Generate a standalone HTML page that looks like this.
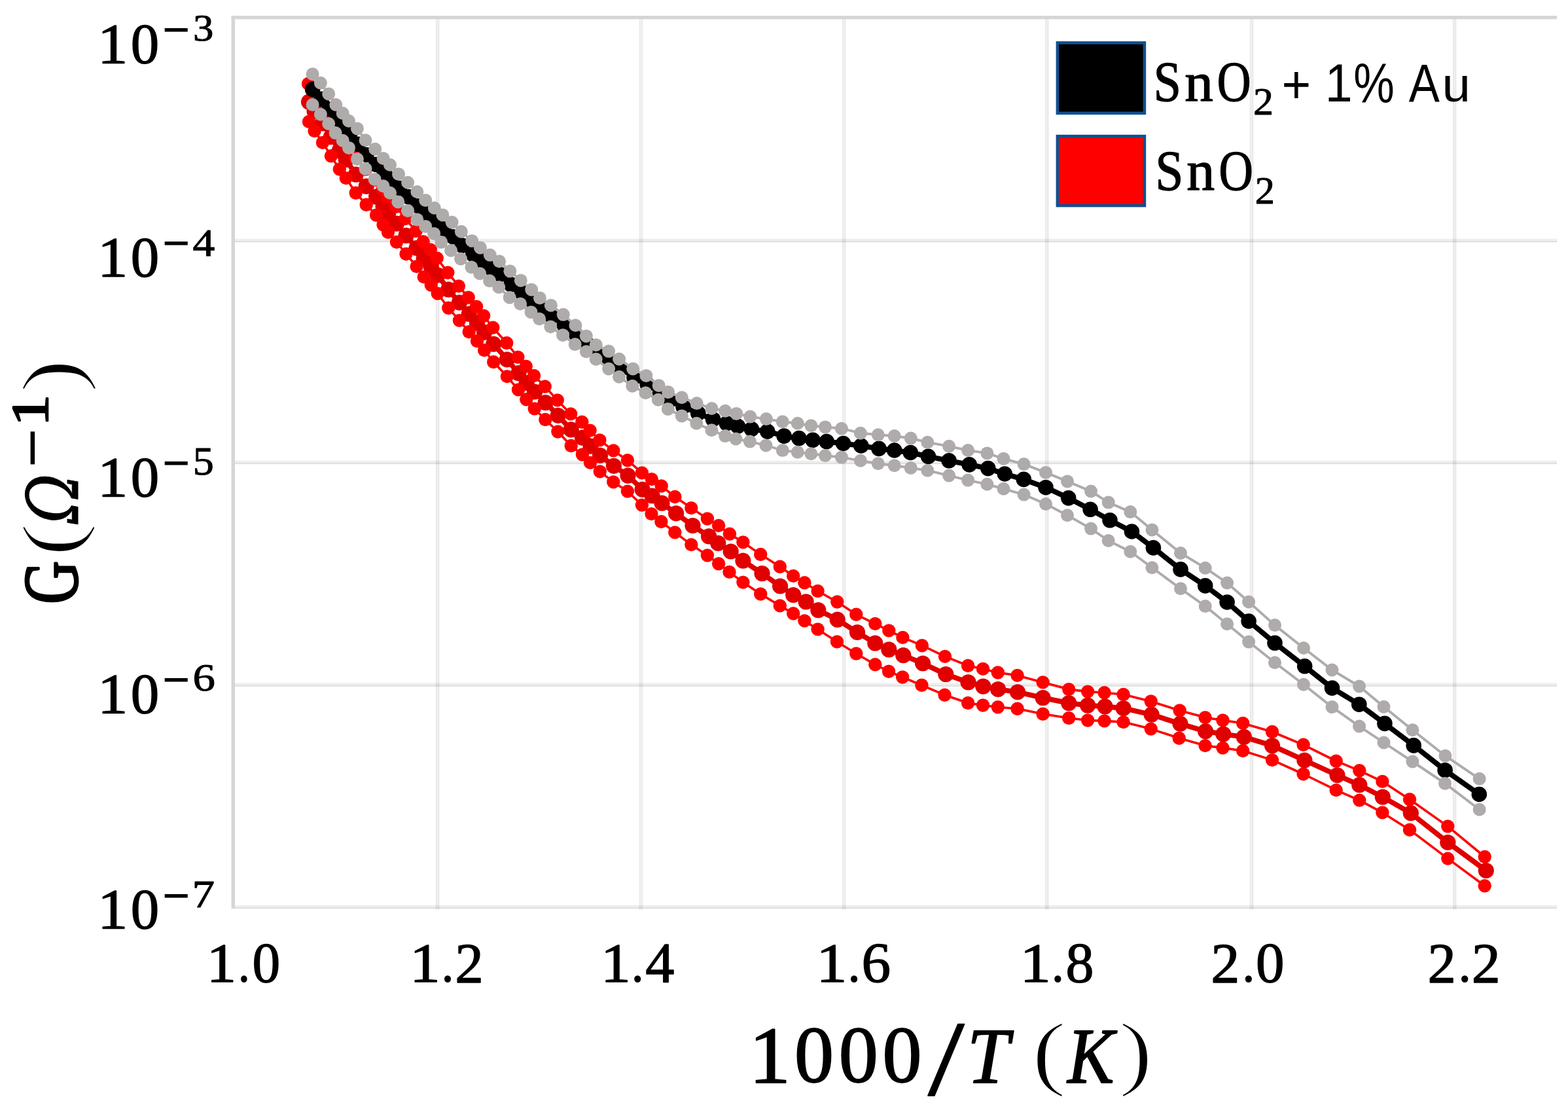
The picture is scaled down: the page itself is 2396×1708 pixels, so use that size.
<!DOCTYPE html>
<html lang="en">
<head>
<meta charset="utf-8">
<title>G vs 1000/T</title>
<style>
html,body{margin:0;padding:0;background:#fff;}
body{width:2396px;height:1708px;overflow:hidden;}
svg{display:block;}
text{fill:#000;font-family:"Liberation Serif","DejaVu Serif",serif;}
.sans{font-family:"Liberation Sans","DejaVu Sans",sans-serif;}
.it{font-style:italic;}
.dit{font-style:italic;font-family:"DejaVu Serif","Liberation Serif",serif;}
</style>
</head>
<body>
<svg width="2396" height="1708" viewBox="0 0 2396 1708">
<rect x="0" y="0" width="2396" height="1708" fill="#ffffff"/>

<g id="grid">
<rect x="665.9" y="26.7" width="2.1" height="1362.9" fill="#eaeaea"/>
<rect x="668" y="26.7" width="1.5" height="1362.9" fill="#f1f1f1"/>
<rect x="669.5" y="26.7" width="1.6" height="1362.9" fill="#e6e6e6"/>
<rect x="671.1" y="26.7" width="0.7" height="1362.9" fill="#f4f4f4"/>
<rect x="976.6" y="26.7" width="2.1" height="1362.9" fill="#eaeaea"/>
<rect x="978.7" y="26.7" width="1.5" height="1362.9" fill="#f1f1f1"/>
<rect x="980.2" y="26.7" width="1.6" height="1362.9" fill="#e6e6e6"/>
<rect x="981.8" y="26.7" width="0.7" height="1362.9" fill="#f4f4f4"/>
<rect x="1287.1" y="26.7" width="2.1" height="1362.9" fill="#eaeaea"/>
<rect x="1289.2" y="26.7" width="1.5" height="1362.9" fill="#f1f1f1"/>
<rect x="1290.7" y="26.7" width="1.6" height="1362.9" fill="#e6e6e6"/>
<rect x="1292.3" y="26.7" width="0.7" height="1362.9" fill="#f4f4f4"/>
<rect x="1597" y="26.7" width="2.1" height="1362.9" fill="#eaeaea"/>
<rect x="1599.1" y="26.7" width="1.5" height="1362.9" fill="#f1f1f1"/>
<rect x="1600.6" y="26.7" width="1.6" height="1362.9" fill="#e6e6e6"/>
<rect x="1602.2" y="26.7" width="0.7" height="1362.9" fill="#f4f4f4"/>
<rect x="1909.7" y="26.7" width="2.1" height="1362.9" fill="#eaeaea"/>
<rect x="1911.8" y="26.7" width="1.5" height="1362.9" fill="#f1f1f1"/>
<rect x="1913.3" y="26.7" width="1.6" height="1362.9" fill="#e6e6e6"/>
<rect x="1914.9" y="26.7" width="0.7" height="1362.9" fill="#f4f4f4"/>
<rect x="2219.9" y="26.7" width="2.1" height="1362.9" fill="#eaeaea"/>
<rect x="2222" y="26.7" width="1.5" height="1362.9" fill="#f1f1f1"/>
<rect x="2223.5" y="26.7" width="1.6" height="1362.9" fill="#e6e6e6"/>
<rect x="2225.1" y="26.7" width="0.7" height="1362.9" fill="#f4f4f4"/>
<rect x="359" y="364.75" width="2020.2" height="3.3" fill="#000" fill-opacity="0.067"/>
<rect x="359" y="368.05" width="2020.2" height="2.1" fill="#000" fill-opacity="0.125"/>
<rect x="359" y="703.75" width="2020.2" height="3.3" fill="#000" fill-opacity="0.067"/>
<rect x="359" y="707.05" width="2020.2" height="2.1" fill="#000" fill-opacity="0.125"/>
<rect x="359" y="1043.4" width="2020.2" height="3.3" fill="#000" fill-opacity="0.067"/>
<rect x="359" y="1046.7" width="2020.2" height="2.1" fill="#000" fill-opacity="0.125"/>
<rect x="359" y="1382.85" width="2020.2" height="3.3" fill="#000" fill-opacity="0.067"/>
<rect x="359" y="1386.15" width="2020.2" height="2.1" fill="#000" fill-opacity="0.125"/>
</g>
<g id="frame">
<rect x="353.6" y="24.1" width="2025.6" height="5.2" fill="#d5d5d5"/>
<rect x="353.6" y="24.1" width="5.4" height="1364.15" fill="#d5d5d5"/>
</g>
<g id="series">
<g class="red-mean" fill="#e00000" stroke="none">
<polyline points="472,155.7 480.6,170.1 493,188.5 505.9,209.2 518.8,230.1 528.7,243.9 543.7,266.7 559.7,284.6 575.1,300.6 585.6,315.4 593,326.6 606,341.6 620.5,359.9 636.6,379 647.7,395 658.8,407.4 668.7,420.3 685.3,442.4 701.9,462.3 716.7,479.7 729,493.7 740.1,507.7 754.2,525.7 774.8,549.3 792.4,570.2 804.7,585 817,598.5 833.6,615.1 852.7,634.8 872.7,656.4 889.9,668.7 902.5,681.6 917,695.8 937.9,711.8 959.5,726.6 981.6,747.8 996.6,757.5 1011.5,768.7 1033.1,784.3 1058.5,803 1083.1,819.4 1097.3,829.9 1116.7,842.5 1135.4,856.7 1164.5,876.1 1192.1,895.5 1212.2,909 1231.6,919.4 1250.3,932.1 1279.7,946.7 1310,966 1337.3,982.7 1358.3,992.4 1380.3,1001.2 1410.1,1013.5 1445.3,1030.1 1479.5,1042.4 1502.3,1048.6 1525.1,1053 1555,1057.3 1593.6,1066.1 1633.2,1074.1 1662.1,1077.6 1688.5,1079.4 1716.6,1082 1759.6,1091.7 1803.5,1105.7 1842.1,1117.2 1869.3,1121.5 1900.9,1125.9 1944,1139.1 1993.4,1161.5 2043.4,1184.3 2077.3,1199.2 2112.8,1217.6 2155.8,1242.2 2212.3,1287 2270.8,1330" fill="none" stroke="#e00000" stroke-width="7.8" stroke-linejoin="round" stroke-linecap="round"/>
<circle cx="472" cy="155.7" r="12.1"/><circle cx="480.6" cy="170.1" r="12.1"/><circle cx="493" cy="188.5" r="12.1"/><circle cx="505.9" cy="209.2" r="12.1"/><circle cx="518.8" cy="230.1" r="12.1"/><circle cx="528.7" cy="243.9" r="12.1"/><circle cx="543.7" cy="266.7" r="12.1"/><circle cx="559.7" cy="284.6" r="12.1"/><circle cx="575.1" cy="300.6" r="12.1"/><circle cx="585.6" cy="315.4" r="12.1"/><circle cx="593" cy="326.6" r="12.1"/><circle cx="606" cy="341.6" r="12.1"/><circle cx="620.5" cy="359.9" r="12.1"/><circle cx="636.6" cy="379" r="12.1"/><circle cx="647.7" cy="395" r="12.1"/><circle cx="658.8" cy="407.4" r="12.1"/><circle cx="668.7" cy="420.3" r="12.1"/><circle cx="685.3" cy="442.4" r="12.1"/><circle cx="701.9" cy="462.3" r="12.1"/><circle cx="716.7" cy="479.7" r="12.1"/><circle cx="729" cy="493.7" r="12.1"/><circle cx="740.1" cy="507.7" r="12.1"/><circle cx="754.2" cy="525.7" r="12.1"/><circle cx="774.8" cy="549.3" r="12.1"/><circle cx="792.4" cy="570.2" r="12.1"/><circle cx="804.7" cy="585" r="12.1"/><circle cx="817" cy="598.5" r="12.1"/><circle cx="833.6" cy="615.1" r="12.1"/><circle cx="852.7" cy="634.8" r="12.1"/><circle cx="872.7" cy="656.4" r="12.1"/><circle cx="889.9" cy="668.7" r="12.1"/><circle cx="902.5" cy="681.6" r="12.1"/><circle cx="917" cy="695.8" r="12.1"/><circle cx="937.9" cy="711.8" r="12.1"/><circle cx="959.5" cy="726.6" r="12.1"/><circle cx="981.6" cy="747.8" r="12.1"/><circle cx="996.6" cy="757.5" r="12.1"/><circle cx="1011.5" cy="768.7" r="12.1"/><circle cx="1033.1" cy="784.3" r="12.1"/><circle cx="1058.5" cy="803" r="12.1"/><circle cx="1083.1" cy="819.4" r="12.1"/><circle cx="1097.3" cy="829.9" r="12.1"/><circle cx="1116.7" cy="842.5" r="12.1"/><circle cx="1135.4" cy="856.7" r="12.1"/><circle cx="1164.5" cy="876.1" r="12.1"/><circle cx="1192.1" cy="895.5" r="12.1"/><circle cx="1212.2" cy="909" r="12.1"/><circle cx="1231.6" cy="919.4" r="12.1"/><circle cx="1250.3" cy="932.1" r="12.1"/><circle cx="1279.7" cy="946.7" r="12.1"/><circle cx="1310" cy="966" r="12.1"/><circle cx="1337.3" cy="982.7" r="12.1"/><circle cx="1358.3" cy="992.4" r="12.1"/><circle cx="1380.3" cy="1001.2" r="12.1"/><circle cx="1410.1" cy="1013.5" r="12.1"/><circle cx="1445.3" cy="1030.1" r="12.1"/><circle cx="1479.5" cy="1042.4" r="12.1"/><circle cx="1502.3" cy="1048.6" r="12.1"/><circle cx="1525.1" cy="1053" r="12.1"/><circle cx="1555" cy="1057.3" r="12.1"/><circle cx="1593.6" cy="1066.1" r="12.1"/><circle cx="1633.2" cy="1074.1" r="12.1"/><circle cx="1662.1" cy="1077.6" r="12.1"/><circle cx="1688.5" cy="1079.4" r="12.1"/><circle cx="1716.6" cy="1082" r="12.1"/><circle cx="1759.6" cy="1091.7" r="12.1"/><circle cx="1803.5" cy="1105.7" r="12.1"/><circle cx="1842.1" cy="1117.2" r="12.1"/><circle cx="1869.3" cy="1121.5" r="12.1"/><circle cx="1900.9" cy="1125.9" r="12.1"/><circle cx="1944" cy="1139.1" r="12.1"/><circle cx="1993.4" cy="1161.5" r="12.1"/><circle cx="2043.4" cy="1184.3" r="12.1"/><circle cx="2077.3" cy="1199.2" r="12.1"/><circle cx="2112.8" cy="1217.6" r="12.1"/><circle cx="2155.8" cy="1242.2" r="12.1"/><circle cx="2212.3" cy="1287" r="12.1"/><circle cx="2270.8" cy="1330" r="12.1"/>
</g>
<g class="red-upper" fill="#ff0000" stroke="none">
<polyline points="471,127.9 479.6,142.6 492,161.3 504.9,182.5 517.8,203.7 527.7,217.9 542.7,240.8 558.7,258.7 574.1,274.7 584.6,289.5 592,300.7 605,315.7 619.5,334 635.6,353.1 646.7,369.1 657.8,381.5 667.7,394.4 684.3,416.5 700.9,437.1 715.7,454.5 728,468.5 739.1,482.5 753.2,500.5 774.2,524 791.4,545.6 803.7,559.7 816,573.9 832.7,590.5 851.8,611.4 872.1,632.4 889.3,644.7 901.6,657.6 916.4,672.4 937.3,688.4 958.9,703.2 980.9,722.4 995.8,732.1 1010.7,742.5 1031.3,759 1056.3,776.1 1080.9,792.5 1098.1,803 1114.9,815.7 1135.4,828.4 1162.2,847 1191.8,865.7 1212.2,879.9 1229.4,890.3 1249.6,903 1279.3,919.5 1308.3,938.8 1337.3,952.9 1358.3,963.4 1379.4,973.9 1408.9,986.2 1444,1002.9 1479.1,1017 1502,1021.9 1524.8,1027.5 1554.6,1031.9 1593.6,1042.4 1633.2,1053.1 1662.1,1056.6 1687.6,1058.3 1716.6,1061 1758.7,1071.5 1802.6,1085.5 1841.6,1096.1 1868.5,1100.5 1899.2,1104.9 1944,1118 1991.6,1137.8 2041.7,1162.7 2077.3,1177.3 2112.4,1193.9 2154,1221.2 2212.3,1262.4 2268.7,1309" fill="none" stroke="#ff0000" stroke-width="3.6" stroke-linejoin="round" stroke-linecap="round"/>
<circle cx="471" cy="127.9" r="10.2"/><circle cx="479.6" cy="142.6" r="10.2"/><circle cx="492" cy="161.3" r="10.2"/><circle cx="504.9" cy="182.5" r="10.2"/><circle cx="517.8" cy="203.7" r="10.2"/><circle cx="527.7" cy="217.9" r="10.2"/><circle cx="542.7" cy="240.8" r="10.2"/><circle cx="558.7" cy="258.7" r="10.2"/><circle cx="574.1" cy="274.7" r="10.2"/><circle cx="584.6" cy="289.5" r="10.2"/><circle cx="592" cy="300.7" r="10.2"/><circle cx="605" cy="315.7" r="10.2"/><circle cx="619.5" cy="334" r="10.2"/><circle cx="635.6" cy="353.1" r="10.2"/><circle cx="646.7" cy="369.1" r="10.2"/><circle cx="657.8" cy="381.5" r="10.2"/><circle cx="667.7" cy="394.4" r="10.2"/><circle cx="684.3" cy="416.5" r="10.2"/><circle cx="700.9" cy="437.1" r="10.2"/><circle cx="715.7" cy="454.5" r="10.2"/><circle cx="728" cy="468.5" r="10.2"/><circle cx="739.1" cy="482.5" r="10.2"/><circle cx="753.2" cy="500.5" r="10.2"/><circle cx="774.2" cy="524" r="10.2"/><circle cx="791.4" cy="545.6" r="10.2"/><circle cx="803.7" cy="559.7" r="10.2"/><circle cx="816" cy="573.9" r="10.2"/><circle cx="832.7" cy="590.5" r="10.2"/><circle cx="851.8" cy="611.4" r="10.2"/><circle cx="872.1" cy="632.4" r="10.2"/><circle cx="889.3" cy="644.7" r="10.2"/><circle cx="901.6" cy="657.6" r="10.2"/><circle cx="916.4" cy="672.4" r="10.2"/><circle cx="937.3" cy="688.4" r="10.2"/><circle cx="958.9" cy="703.2" r="10.2"/><circle cx="980.9" cy="722.4" r="10.2"/><circle cx="995.8" cy="732.1" r="10.2"/><circle cx="1010.7" cy="742.5" r="10.2"/><circle cx="1031.3" cy="759" r="10.2"/><circle cx="1056.3" cy="776.1" r="10.2"/><circle cx="1080.9" cy="792.5" r="10.2"/><circle cx="1098.1" cy="803" r="10.2"/><circle cx="1114.9" cy="815.7" r="10.2"/><circle cx="1135.4" cy="828.4" r="10.2"/><circle cx="1162.2" cy="847" r="10.2"/><circle cx="1191.8" cy="865.7" r="10.2"/><circle cx="1212.2" cy="879.9" r="10.2"/><circle cx="1229.4" cy="890.3" r="10.2"/><circle cx="1249.6" cy="903" r="10.2"/><circle cx="1279.3" cy="919.5" r="10.2"/><circle cx="1308.3" cy="938.8" r="10.2"/><circle cx="1337.3" cy="952.9" r="10.2"/><circle cx="1358.3" cy="963.4" r="10.2"/><circle cx="1379.4" cy="973.9" r="10.2"/><circle cx="1408.9" cy="986.2" r="10.2"/><circle cx="1444" cy="1002.9" r="10.2"/><circle cx="1479.1" cy="1017" r="10.2"/><circle cx="1502" cy="1021.9" r="10.2"/><circle cx="1524.8" cy="1027.5" r="10.2"/><circle cx="1554.6" cy="1031.9" r="10.2"/><circle cx="1593.6" cy="1042.4" r="10.2"/><circle cx="1633.2" cy="1053.1" r="10.2"/><circle cx="1662.1" cy="1056.6" r="10.2"/><circle cx="1687.6" cy="1058.3" r="10.2"/><circle cx="1716.6" cy="1061" r="10.2"/><circle cx="1758.7" cy="1071.5" r="10.2"/><circle cx="1802.6" cy="1085.5" r="10.2"/><circle cx="1841.6" cy="1096.1" r="10.2"/><circle cx="1868.5" cy="1100.5" r="10.2"/><circle cx="1899.2" cy="1104.9" r="10.2"/><circle cx="1944" cy="1118" r="10.2"/><circle cx="1991.6" cy="1137.8" r="10.2"/><circle cx="2041.7" cy="1162.7" r="10.2"/><circle cx="2077.3" cy="1177.3" r="10.2"/><circle cx="2112.4" cy="1193.9" r="10.2"/><circle cx="2154" cy="1221.2" r="10.2"/><circle cx="2212.3" cy="1262.4" r="10.2"/><circle cx="2268.7" cy="1309" r="10.2"/>
</g>
<g class="red-lower" fill="#ff0000" stroke="none">
<polyline points="472,185.9 480.6,200 493,217.9 505.9,238.2 518.8,258.6 528.7,272.1 543.7,294.8 559.7,312.7 575.1,328.7 585.6,343.5 593,354.7 606,369.7 620.5,388 636.6,407.1 647.7,423.1 658.8,435.5 668.7,448.4 685.3,470.5 701.9,489.6 716.7,507 729,521 740.1,535 754.2,553 774.8,575.1 792,595.4 804.3,610.2 816.7,624.4 833.3,641 852.4,659.5 872.7,681 889.9,694.5 902,706.9 916.8,720.4 937.3,736.4 958.9,750.6 980.9,771.6 995.5,785.1 1010.4,797 1031.3,813.4 1056.3,832.1 1080.9,848.5 1098.1,861.2 1114.5,873.9 1135.4,889.6 1162.2,907.5 1191.8,925.4 1212.2,937.3 1229.4,948.4 1249.6,961.4 1279,980.4 1308.3,998.5 1337.3,1015.2 1358,1025.7 1379.1,1034.5 1408.4,1046.8 1443.5,1061.7 1479.1,1074 1502,1077.5 1524.8,1080.2 1554.6,1082.8 1593.6,1090.7 1633.2,1097 1662.1,1100.5 1687.6,1101.4 1716.6,1103.1 1758.7,1113.6 1801.7,1127.7 1841.6,1139.1 1868.5,1142.6 1899.2,1147 1944,1161.1 1991.6,1182.5 2041.7,1207.1 2077.3,1222.6 2112.4,1241.4 2154,1267.7 2212.3,1311.6 2268.7,1353.2" fill="none" stroke="#ff0000" stroke-width="3.6" stroke-linejoin="round" stroke-linecap="round"/>
<circle cx="472" cy="185.9" r="10.2"/><circle cx="480.6" cy="200" r="10.2"/><circle cx="493" cy="217.9" r="10.2"/><circle cx="505.9" cy="238.2" r="10.2"/><circle cx="518.8" cy="258.6" r="10.2"/><circle cx="528.7" cy="272.1" r="10.2"/><circle cx="543.7" cy="294.8" r="10.2"/><circle cx="559.7" cy="312.7" r="10.2"/><circle cx="575.1" cy="328.7" r="10.2"/><circle cx="585.6" cy="343.5" r="10.2"/><circle cx="593" cy="354.7" r="10.2"/><circle cx="606" cy="369.7" r="10.2"/><circle cx="620.5" cy="388" r="10.2"/><circle cx="636.6" cy="407.1" r="10.2"/><circle cx="647.7" cy="423.1" r="10.2"/><circle cx="658.8" cy="435.5" r="10.2"/><circle cx="668.7" cy="448.4" r="10.2"/><circle cx="685.3" cy="470.5" r="10.2"/><circle cx="701.9" cy="489.6" r="10.2"/><circle cx="716.7" cy="507" r="10.2"/><circle cx="729" cy="521" r="10.2"/><circle cx="740.1" cy="535" r="10.2"/><circle cx="754.2" cy="553" r="10.2"/><circle cx="774.8" cy="575.1" r="10.2"/><circle cx="792" cy="595.4" r="10.2"/><circle cx="804.3" cy="610.2" r="10.2"/><circle cx="816.7" cy="624.4" r="10.2"/><circle cx="833.3" cy="641" r="10.2"/><circle cx="852.4" cy="659.5" r="10.2"/><circle cx="872.7" cy="681" r="10.2"/><circle cx="889.9" cy="694.5" r="10.2"/><circle cx="902" cy="706.9" r="10.2"/><circle cx="916.8" cy="720.4" r="10.2"/><circle cx="937.3" cy="736.4" r="10.2"/><circle cx="958.9" cy="750.6" r="10.2"/><circle cx="980.9" cy="771.6" r="10.2"/><circle cx="995.5" cy="785.1" r="10.2"/><circle cx="1010.4" cy="797" r="10.2"/><circle cx="1031.3" cy="813.4" r="10.2"/><circle cx="1056.3" cy="832.1" r="10.2"/><circle cx="1080.9" cy="848.5" r="10.2"/><circle cx="1098.1" cy="861.2" r="10.2"/><circle cx="1114.5" cy="873.9" r="10.2"/><circle cx="1135.4" cy="889.6" r="10.2"/><circle cx="1162.2" cy="907.5" r="10.2"/><circle cx="1191.8" cy="925.4" r="10.2"/><circle cx="1212.2" cy="937.3" r="10.2"/><circle cx="1229.4" cy="948.4" r="10.2"/><circle cx="1249.6" cy="961.4" r="10.2"/><circle cx="1279" cy="980.4" r="10.2"/><circle cx="1308.3" cy="998.5" r="10.2"/><circle cx="1337.3" cy="1015.2" r="10.2"/><circle cx="1358" cy="1025.7" r="10.2"/><circle cx="1379.1" cy="1034.5" r="10.2"/><circle cx="1408.4" cy="1046.8" r="10.2"/><circle cx="1443.5" cy="1061.7" r="10.2"/><circle cx="1479.1" cy="1074" r="10.2"/><circle cx="1502" cy="1077.5" r="10.2"/><circle cx="1524.8" cy="1080.2" r="10.2"/><circle cx="1554.6" cy="1082.8" r="10.2"/><circle cx="1593.6" cy="1090.7" r="10.2"/><circle cx="1633.2" cy="1097" r="10.2"/><circle cx="1662.1" cy="1100.5" r="10.2"/><circle cx="1687.6" cy="1101.4" r="10.2"/><circle cx="1716.6" cy="1103.1" r="10.2"/><circle cx="1758.7" cy="1113.6" r="10.2"/><circle cx="1801.7" cy="1127.7" r="10.2"/><circle cx="1841.6" cy="1139.1" r="10.2"/><circle cx="1868.5" cy="1142.6" r="10.2"/><circle cx="1899.2" cy="1147" r="10.2"/><circle cx="1944" cy="1161.1" r="10.2"/><circle cx="1991.6" cy="1182.5" r="10.2"/><circle cx="2041.7" cy="1207.1" r="10.2"/><circle cx="2077.3" cy="1222.6" r="10.2"/><circle cx="2112.4" cy="1241.4" r="10.2"/><circle cx="2154" cy="1267.7" r="10.2"/><circle cx="2212.3" cy="1311.6" r="10.2"/><circle cx="2268.7" cy="1353.2" r="10.2"/>
</g>
<g class="black-mean" fill="#000000" stroke="none">
<polyline points="477.6,136.6 491.4,151.3 503.7,166.7 514.8,182.1 525.2,194.4 534.5,205.8 547.4,220.3 560,236.5 574.7,251.3 587.1,263.6 597.5,273.8 610.5,287.6 624.6,300.9 638.8,314.7 651.7,326.4 665.3,337.8 677.9,349.8 692.1,361.7 706.3,375.1 722.7,388.6 735.4,398.6 750.3,409.8 764.5,419.5 780.9,434.8 797.3,446.8 813.7,460.2 826.4,471.8 843.3,483.3 862.2,496.8 880.9,512.1 897.3,525.9 912.2,538.3 931.6,550.5 948.3,562.2 969,576.6 989.2,587.1 1008.5,599.9 1023.2,612 1044,621.4 1066.8,631.4 1089.6,640.7 1110.3,646.8 1127.4,651.2 1148.4,655.6 1172.7,659.1 1198.1,666.1 1220.9,669.6 1242,672.3 1263.1,674.6 1288.6,677.5 1315.8,681 1343,685.4 1366.7,688 1391.3,691.5 1418.5,697.3 1450.1,703.8 1481.2,709.9 1509.8,715.6 1535.3,724 1564.3,732.4 1598,744.7 1632.7,760.9 1666.1,778.3 1696,794.8 1729.4,812 1762.4,836.9 1804,869.9 1841.7,894.9 1875.1,920 1908.1,949 1948,982.3 1993.7,1017.8 2035.5,1051.1 2076.8,1076.2 2115.9,1105.4 2160.2,1138.9 2208.1,1176.7 2260.3,1213.5" fill="none" stroke="#000000" stroke-width="8.0" stroke-linejoin="round" stroke-linecap="round"/>
<circle cx="477.6" cy="136.6" r="11.8"/><circle cx="491.4" cy="151.3" r="11.8"/><circle cx="503.7" cy="166.7" r="11.8"/><circle cx="514.8" cy="182.1" r="11.8"/><circle cx="525.2" cy="194.4" r="11.8"/><circle cx="534.5" cy="205.8" r="11.8"/><circle cx="547.4" cy="220.3" r="11.8"/><circle cx="560" cy="236.5" r="11.8"/><circle cx="574.7" cy="251.3" r="11.8"/><circle cx="587.1" cy="263.6" r="11.8"/><circle cx="597.5" cy="273.8" r="11.8"/><circle cx="610.5" cy="287.6" r="11.8"/><circle cx="624.6" cy="300.9" r="11.8"/><circle cx="638.8" cy="314.7" r="11.8"/><circle cx="651.7" cy="326.4" r="11.8"/><circle cx="665.3" cy="337.8" r="11.8"/><circle cx="677.9" cy="349.8" r="11.8"/><circle cx="692.1" cy="361.7" r="11.8"/><circle cx="706.3" cy="375.1" r="11.8"/><circle cx="722.7" cy="388.6" r="11.8"/><circle cx="735.4" cy="398.6" r="11.8"/><circle cx="750.3" cy="409.8" r="11.8"/><circle cx="764.5" cy="419.5" r="11.8"/><circle cx="780.9" cy="434.8" r="11.8"/><circle cx="797.3" cy="446.8" r="11.8"/><circle cx="813.7" cy="460.2" r="11.8"/><circle cx="826.4" cy="471.8" r="11.8"/><circle cx="843.3" cy="483.3" r="11.8"/><circle cx="862.2" cy="496.8" r="11.8"/><circle cx="880.9" cy="512.1" r="11.8"/><circle cx="897.3" cy="525.9" r="11.8"/><circle cx="912.2" cy="538.3" r="11.8"/><circle cx="931.6" cy="550.5" r="11.8"/><circle cx="948.3" cy="562.2" r="11.8"/><circle cx="969" cy="576.6" r="11.8"/><circle cx="989.2" cy="587.1" r="11.8"/><circle cx="1008.5" cy="599.9" r="11.8"/><circle cx="1023.2" cy="612" r="11.8"/><circle cx="1044" cy="621.4" r="11.8"/><circle cx="1066.8" cy="631.4" r="11.8"/><circle cx="1089.6" cy="640.7" r="11.8"/><circle cx="1110.3" cy="646.8" r="11.8"/><circle cx="1127.4" cy="651.2" r="11.8"/><circle cx="1148.4" cy="655.6" r="11.8"/><circle cx="1172.7" cy="659.1" r="11.8"/><circle cx="1198.1" cy="666.1" r="11.8"/><circle cx="1220.9" cy="669.6" r="11.8"/><circle cx="1242" cy="672.3" r="11.8"/><circle cx="1263.1" cy="674.6" r="11.8"/><circle cx="1288.6" cy="677.5" r="11.8"/><circle cx="1315.8" cy="681" r="11.8"/><circle cx="1343" cy="685.4" r="11.8"/><circle cx="1366.7" cy="688" r="11.8"/><circle cx="1391.3" cy="691.5" r="11.8"/><circle cx="1418.5" cy="697.3" r="11.8"/><circle cx="1450.1" cy="703.8" r="11.8"/><circle cx="1481.2" cy="709.9" r="11.8"/><circle cx="1509.8" cy="715.6" r="11.8"/><circle cx="1535.3" cy="724" r="11.8"/><circle cx="1564.3" cy="732.4" r="11.8"/><circle cx="1598" cy="744.7" r="11.8"/><circle cx="1632.7" cy="760.9" r="11.8"/><circle cx="1666.1" cy="778.3" r="11.8"/><circle cx="1696" cy="794.8" r="11.8"/><circle cx="1729.4" cy="812" r="11.8"/><circle cx="1762.4" cy="836.9" r="11.8"/><circle cx="1804" cy="869.9" r="11.8"/><circle cx="1841.7" cy="894.9" r="11.8"/><circle cx="1875.1" cy="920" r="11.8"/><circle cx="1908.1" cy="949" r="11.8"/><circle cx="1948" cy="982.3" r="11.8"/><circle cx="1993.7" cy="1017.8" r="11.8"/><circle cx="2035.5" cy="1051.1" r="11.8"/><circle cx="2076.8" cy="1076.2" r="11.8"/><circle cx="2115.9" cy="1105.4" r="11.8"/><circle cx="2160.2" cy="1138.9" r="11.8"/><circle cx="2208.1" cy="1176.7" r="11.8"/><circle cx="2260.3" cy="1213.5" r="11.8"/>
</g>
<g class="gray-upper" fill="#afabab" stroke="none">
<polyline points="477.6,113.2 489.9,126.8 502.2,143.4 513.3,160 523.7,173 533,184.7 545.9,196.4 558.5,214.2 573.2,227.7 585.6,241.9 596,251.7 609,265.9 623.1,278.8 637.3,293 650.2,305.9 663.8,317.7 676.4,328.4 690.6,339.6 704.8,353.7 721.2,367.9 733.9,378.4 748.8,389.6 763,399.3 779.4,414.2 795.8,428.4 812.2,442.5 824.9,455.2 841.8,466.4 860.7,480.6 879.4,497 895.8,513.4 910.7,526.9 930.1,536.6 946.1,548.5 967.2,563.4 987.4,573.9 1006.7,588.9 1021.1,599.1 1041.8,607.3 1064.7,616.1 1087.5,624 1108.2,627.8 1125.3,631.9 1146.3,636.6 1170.9,640.1 1195.8,644.2 1218.8,646.8 1239.4,650.3 1261,652.4 1285.9,654.7 1314.9,661.7 1341.8,664.3 1366.7,666 1391.7,669.6 1417.3,675.7 1450.1,681.8 1479.1,688 1508.4,692.4 1533.5,700.8 1564.6,709.1 1598,721.9 1631,735.4 1667,750.5 1693.7,767.6 1727.3,782.1 1760.4,809.4 1804,845 1841.7,867.7 1875.1,890.5 1908.1,919.5 1948,955.1 1992,990 2035.5,1023.5 2077.1,1048.5 2114.5,1079.7 2158.4,1115.2 2208.5,1154.7 2260.6,1189.8" fill="none" stroke="#afabab" stroke-width="3.9" stroke-linejoin="round" stroke-linecap="round"/>
<circle cx="477.6" cy="113.2" r="10.0"/><circle cx="489.9" cy="126.8" r="10.0"/><circle cx="502.2" cy="143.4" r="10.0"/><circle cx="513.3" cy="160" r="10.0"/><circle cx="523.7" cy="173" r="10.0"/><circle cx="533" cy="184.7" r="10.0"/><circle cx="545.9" cy="196.4" r="10.0"/><circle cx="558.5" cy="214.2" r="10.0"/><circle cx="573.2" cy="227.7" r="10.0"/><circle cx="585.6" cy="241.9" r="10.0"/><circle cx="596" cy="251.7" r="10.0"/><circle cx="609" cy="265.9" r="10.0"/><circle cx="623.1" cy="278.8" r="10.0"/><circle cx="637.3" cy="293" r="10.0"/><circle cx="650.2" cy="305.9" r="10.0"/><circle cx="663.8" cy="317.7" r="10.0"/><circle cx="676.4" cy="328.4" r="10.0"/><circle cx="690.6" cy="339.6" r="10.0"/><circle cx="704.8" cy="353.7" r="10.0"/><circle cx="721.2" cy="367.9" r="10.0"/><circle cx="733.9" cy="378.4" r="10.0"/><circle cx="748.8" cy="389.6" r="10.0"/><circle cx="763" cy="399.3" r="10.0"/><circle cx="779.4" cy="414.2" r="10.0"/><circle cx="795.8" cy="428.4" r="10.0"/><circle cx="812.2" cy="442.5" r="10.0"/><circle cx="824.9" cy="455.2" r="10.0"/><circle cx="841.8" cy="466.4" r="10.0"/><circle cx="860.7" cy="480.6" r="10.0"/><circle cx="879.4" cy="497" r="10.0"/><circle cx="895.8" cy="513.4" r="10.0"/><circle cx="910.7" cy="526.9" r="10.0"/><circle cx="930.1" cy="536.6" r="10.0"/><circle cx="946.1" cy="548.5" r="10.0"/><circle cx="967.2" cy="563.4" r="10.0"/><circle cx="987.4" cy="573.9" r="10.0"/><circle cx="1006.7" cy="588.9" r="10.0"/><circle cx="1021.1" cy="599.1" r="10.0"/><circle cx="1041.8" cy="607.3" r="10.0"/><circle cx="1064.7" cy="616.1" r="10.0"/><circle cx="1087.5" cy="624" r="10.0"/><circle cx="1108.2" cy="627.8" r="10.0"/><circle cx="1125.3" cy="631.9" r="10.0"/><circle cx="1146.3" cy="636.6" r="10.0"/><circle cx="1170.9" cy="640.1" r="10.0"/><circle cx="1195.8" cy="644.2" r="10.0"/><circle cx="1218.8" cy="646.8" r="10.0"/><circle cx="1239.4" cy="650.3" r="10.0"/><circle cx="1261" cy="652.4" r="10.0"/><circle cx="1285.9" cy="654.7" r="10.0"/><circle cx="1314.9" cy="661.7" r="10.0"/><circle cx="1341.8" cy="664.3" r="10.0"/><circle cx="1366.7" cy="666" r="10.0"/><circle cx="1391.7" cy="669.6" r="10.0"/><circle cx="1417.3" cy="675.7" r="10.0"/><circle cx="1450.1" cy="681.8" r="10.0"/><circle cx="1479.1" cy="688" r="10.0"/><circle cx="1508.4" cy="692.4" r="10.0"/><circle cx="1533.5" cy="700.8" r="10.0"/><circle cx="1564.6" cy="709.1" r="10.0"/><circle cx="1598" cy="721.9" r="10.0"/><circle cx="1631" cy="735.4" r="10.0"/><circle cx="1667" cy="750.5" r="10.0"/><circle cx="1693.7" cy="767.6" r="10.0"/><circle cx="1727.3" cy="782.1" r="10.0"/><circle cx="1760.4" cy="809.4" r="10.0"/><circle cx="1804" cy="845" r="10.0"/><circle cx="1841.7" cy="867.7" r="10.0"/><circle cx="1875.1" cy="890.5" r="10.0"/><circle cx="1908.1" cy="919.5" r="10.0"/><circle cx="1948" cy="955.1" r="10.0"/><circle cx="1992" cy="990" r="10.0"/><circle cx="2035.5" cy="1023.5" r="10.0"/><circle cx="2077.1" cy="1048.5" r="10.0"/><circle cx="2114.5" cy="1079.7" r="10.0"/><circle cx="2158.4" cy="1115.2" r="10.0"/><circle cx="2208.5" cy="1154.7" r="10.0"/><circle cx="2260.6" cy="1189.8" r="10.0"/>
</g>
<g class="gray-lower" fill="#afabab" stroke="none">
<polyline points="477.6,160 489.9,174.8 502.2,189 512.6,203.1 523.7,214.8 533,225.9 545.9,243.1 558.5,257.9 572.6,273.9 585.6,284.3 596,294.8 608.3,308.4 623.1,321.9 637.3,335.4 650.2,345.9 663.1,356.9 674.2,370.1 689.1,382.8 704,395.5 720.4,408.2 733.1,417.9 748.1,429.1 762.2,438.8 778.7,454.5 795.1,464.2 811.5,476.9 824.2,487.3 841.3,499.3 860,511.9 878.7,526.1 895.8,537.3 910.7,548.7 930.1,563.5 946.1,575.7 966.3,589.7 986.5,600.3 1005.8,610.8 1020.8,624.9 1041.8,635.4 1064.3,646.8 1087.5,657.3 1108.2,666.1 1124.4,670.5 1145.8,674.6 1170.4,680.5 1195.8,688.1 1218.8,690.7 1239.4,693.3 1261,696 1285.9,698.6 1314.9,703.8 1341.8,708.2 1366.7,711.3 1391.7,714.9 1417.3,718.7 1450.1,726.6 1479.1,733.6 1508.4,739.8 1533.5,746.8 1564.6,755.6 1598,770 1631,787.2 1667,807.6 1693.7,826 1727.3,842.7 1760.4,867.3 1804,899.3 1841.7,926.1 1875.1,953.3 1908.1,980.6 1948,1012.2 1992,1045.8 2035.5,1080.1 2077.1,1109.6 2114.5,1134.5 2158.4,1163.5 2208.1,1196.9 2260.6,1236.7" fill="none" stroke="#afabab" stroke-width="3.9" stroke-linejoin="round" stroke-linecap="round"/>
<circle cx="477.6" cy="160" r="10.0"/><circle cx="489.9" cy="174.8" r="10.0"/><circle cx="502.2" cy="189" r="10.0"/><circle cx="512.6" cy="203.1" r="10.0"/><circle cx="523.7" cy="214.8" r="10.0"/><circle cx="533" cy="225.9" r="10.0"/><circle cx="545.9" cy="243.1" r="10.0"/><circle cx="558.5" cy="257.9" r="10.0"/><circle cx="572.6" cy="273.9" r="10.0"/><circle cx="585.6" cy="284.3" r="10.0"/><circle cx="596" cy="294.8" r="10.0"/><circle cx="608.3" cy="308.4" r="10.0"/><circle cx="623.1" cy="321.9" r="10.0"/><circle cx="637.3" cy="335.4" r="10.0"/><circle cx="650.2" cy="345.9" r="10.0"/><circle cx="663.1" cy="356.9" r="10.0"/><circle cx="674.2" cy="370.1" r="10.0"/><circle cx="689.1" cy="382.8" r="10.0"/><circle cx="704" cy="395.5" r="10.0"/><circle cx="720.4" cy="408.2" r="10.0"/><circle cx="733.1" cy="417.9" r="10.0"/><circle cx="748.1" cy="429.1" r="10.0"/><circle cx="762.2" cy="438.8" r="10.0"/><circle cx="778.7" cy="454.5" r="10.0"/><circle cx="795.1" cy="464.2" r="10.0"/><circle cx="811.5" cy="476.9" r="10.0"/><circle cx="824.2" cy="487.3" r="10.0"/><circle cx="841.3" cy="499.3" r="10.0"/><circle cx="860" cy="511.9" r="10.0"/><circle cx="878.7" cy="526.1" r="10.0"/><circle cx="895.8" cy="537.3" r="10.0"/><circle cx="910.7" cy="548.7" r="10.0"/><circle cx="930.1" cy="563.5" r="10.0"/><circle cx="946.1" cy="575.7" r="10.0"/><circle cx="966.3" cy="589.7" r="10.0"/><circle cx="986.5" cy="600.3" r="10.0"/><circle cx="1005.8" cy="610.8" r="10.0"/><circle cx="1020.8" cy="624.9" r="10.0"/><circle cx="1041.8" cy="635.4" r="10.0"/><circle cx="1064.3" cy="646.8" r="10.0"/><circle cx="1087.5" cy="657.3" r="10.0"/><circle cx="1108.2" cy="666.1" r="10.0"/><circle cx="1124.4" cy="670.5" r="10.0"/><circle cx="1145.8" cy="674.6" r="10.0"/><circle cx="1170.4" cy="680.5" r="10.0"/><circle cx="1195.8" cy="688.1" r="10.0"/><circle cx="1218.8" cy="690.7" r="10.0"/><circle cx="1239.4" cy="693.3" r="10.0"/><circle cx="1261" cy="696" r="10.0"/><circle cx="1285.9" cy="698.6" r="10.0"/><circle cx="1314.9" cy="703.8" r="10.0"/><circle cx="1341.8" cy="708.2" r="10.0"/><circle cx="1366.7" cy="711.3" r="10.0"/><circle cx="1391.7" cy="714.9" r="10.0"/><circle cx="1417.3" cy="718.7" r="10.0"/><circle cx="1450.1" cy="726.6" r="10.0"/><circle cx="1479.1" cy="733.6" r="10.0"/><circle cx="1508.4" cy="739.8" r="10.0"/><circle cx="1533.5" cy="746.8" r="10.0"/><circle cx="1564.6" cy="755.6" r="10.0"/><circle cx="1598" cy="770" r="10.0"/><circle cx="1631" cy="787.2" r="10.0"/><circle cx="1667" cy="807.6" r="10.0"/><circle cx="1693.7" cy="826" r="10.0"/><circle cx="1727.3" cy="842.7" r="10.0"/><circle cx="1760.4" cy="867.3" r="10.0"/><circle cx="1804" cy="899.3" r="10.0"/><circle cx="1841.7" cy="926.1" r="10.0"/><circle cx="1875.1" cy="953.3" r="10.0"/><circle cx="1908.1" cy="980.6" r="10.0"/><circle cx="1948" cy="1012.2" r="10.0"/><circle cx="1992" cy="1045.8" r="10.0"/><circle cx="2035.5" cy="1080.1" r="10.0"/><circle cx="2077.1" cy="1109.6" r="10.0"/><circle cx="2114.5" cy="1134.5" r="10.0"/><circle cx="2158.4" cy="1163.5" r="10.0"/><circle cx="2208.1" cy="1196.9" r="10.0"/><circle cx="2260.6" cy="1236.7" r="10.0"/>
</g>
</g>
<g id="yticks">
<text><tspan x="148.98" y="95.5" font-size="86.97" textLength="46.38" lengthAdjust="spacingAndGlyphs" stroke="#000" stroke-width="1.4" stroke-linejoin="round">1</tspan><tspan x="199.64" y="95.62" font-size="87.7" textLength="43.41" lengthAdjust="spacingAndGlyphs" stroke="#000" stroke-width="1.4" stroke-linejoin="round">0</tspan><tspan x="247.63" y="83.24" font-size="112" textLength="42.57" lengthAdjust="spacingAndGlyphs">−</tspan><tspan x="295.12" y="61.62" font-size="57.84" textLength="31.39" lengthAdjust="spacingAndGlyphs" stroke="#000" stroke-width="1" stroke-linejoin="round">3</tspan></text>
<text><tspan x="148.98" y="421.7" font-size="86.97" textLength="46.38" lengthAdjust="spacingAndGlyphs" stroke="#000" stroke-width="1.4" stroke-linejoin="round">1</tspan><tspan x="199.64" y="421.82" font-size="87.7" textLength="43.41" lengthAdjust="spacingAndGlyphs" stroke="#000" stroke-width="1.4" stroke-linejoin="round">0</tspan><tspan x="247.63" y="409.44" font-size="112" textLength="42.57" lengthAdjust="spacingAndGlyphs">−</tspan><tspan x="294.45" y="390.5" font-size="59.47" textLength="33.76" lengthAdjust="spacingAndGlyphs" stroke="#000" stroke-width="1" stroke-linejoin="round">4</tspan></text>
<text><tspan x="148.98" y="757.5" font-size="86.97" textLength="46.38" lengthAdjust="spacingAndGlyphs" stroke="#000" stroke-width="1.4" stroke-linejoin="round">1</tspan><tspan x="199.64" y="757.62" font-size="87.7" textLength="43.41" lengthAdjust="spacingAndGlyphs" stroke="#000" stroke-width="1.4" stroke-linejoin="round">0</tspan><tspan x="247.63" y="745.24" font-size="112" textLength="42.57" lengthAdjust="spacingAndGlyphs">−</tspan><tspan x="294.81" y="725.09" font-size="61.05" textLength="32.05" lengthAdjust="spacingAndGlyphs" stroke="#000" stroke-width="1" stroke-linejoin="round">5</tspan></text>
<text><tspan x="148.98" y="1088.7" font-size="86.97" textLength="46.38" lengthAdjust="spacingAndGlyphs" stroke="#000" stroke-width="1.4" stroke-linejoin="round">1</tspan><tspan x="199.64" y="1088.82" font-size="87.7" textLength="43.41" lengthAdjust="spacingAndGlyphs" stroke="#000" stroke-width="1.4" stroke-linejoin="round">0</tspan><tspan x="247.63" y="1076.44" font-size="112" textLength="42.57" lengthAdjust="spacingAndGlyphs">−</tspan><tspan x="294.58" y="1054.61" font-size="58.59" textLength="34.39" lengthAdjust="spacingAndGlyphs" stroke="#000" stroke-width="1" stroke-linejoin="round">6</tspan></text>
<text><tspan x="148.98" y="1418" font-size="86.97" textLength="46.38" lengthAdjust="spacingAndGlyphs" stroke="#000" stroke-width="1.4" stroke-linejoin="round">1</tspan><tspan x="199.64" y="1418.12" font-size="87.7" textLength="43.41" lengthAdjust="spacingAndGlyphs" stroke="#000" stroke-width="1.4" stroke-linejoin="round">0</tspan><tspan x="247.63" y="1405.74" font-size="112" textLength="42.57" lengthAdjust="spacingAndGlyphs">−</tspan><tspan x="293.51" y="1385.7" font-size="59.24" textLength="34.57" lengthAdjust="spacingAndGlyphs" stroke="#000" stroke-width="1" stroke-linejoin="round">7</tspan></text>
</g>
<g id="xticks">
<text><tspan x="315.76" y="1499.6" font-size="85.45" textLength="45.39" lengthAdjust="spacingAndGlyphs" stroke="#000" stroke-width="1.4" stroke-linejoin="round">1</tspan><tspan x="362.85" y="1499.83" font-size="91.06" textLength="20.21" lengthAdjust="spacingAndGlyphs">.</tspan><tspan x="385.5" y="1499.64" font-size="85.78" textLength="42.71" lengthAdjust="spacingAndGlyphs" stroke="#000" stroke-width="1.4" stroke-linejoin="round">0</tspan></text>
<text><tspan x="625.91" y="1499.6" font-size="85.45" textLength="46.81" lengthAdjust="spacingAndGlyphs" stroke="#000" stroke-width="1.4" stroke-linejoin="round">1</tspan><tspan x="673.32" y="1499.83" font-size="91.06" textLength="21.46" lengthAdjust="spacingAndGlyphs">.</tspan><tspan x="695.37" y="1500.5" font-size="87.4" textLength="43.62" lengthAdjust="spacingAndGlyphs" stroke="#000" stroke-width="1.4" stroke-linejoin="round">2</tspan></text>
<text><tspan x="918.08" y="1499.6" font-size="85.45" textLength="45.82" lengthAdjust="spacingAndGlyphs" stroke="#000" stroke-width="1.4" stroke-linejoin="round">1</tspan><tspan x="963.42" y="1499.83" font-size="91.06" textLength="21.46" lengthAdjust="spacingAndGlyphs">.</tspan><tspan x="986.33" y="1499.6" font-size="85.78" textLength="44.19" lengthAdjust="spacingAndGlyphs" stroke="#000" stroke-width="1.4" stroke-linejoin="round">4</tspan></text>
<text><tspan x="1247.33" y="1499.6" font-size="85.45" textLength="47.23" lengthAdjust="spacingAndGlyphs" stroke="#000" stroke-width="1.4" stroke-linejoin="round">1</tspan><tspan x="1294.17" y="1499.83" font-size="91.06" textLength="21.67" lengthAdjust="spacingAndGlyphs">.</tspan><tspan x="1316.61" y="1499.64" font-size="86.1" textLength="44.56" lengthAdjust="spacingAndGlyphs" stroke="#000" stroke-width="1.4" stroke-linejoin="round">6</tspan></text>
<text><tspan x="1558.61" y="1499.6" font-size="85.45" textLength="47.38" lengthAdjust="spacingAndGlyphs" stroke="#000" stroke-width="1.4" stroke-linejoin="round">1</tspan><tspan x="1605.47" y="1499.83" font-size="91.06" textLength="21.67" lengthAdjust="spacingAndGlyphs">.</tspan><tspan x="1628.48" y="1499.64" font-size="85.78" textLength="42.94" lengthAdjust="spacingAndGlyphs" stroke="#000" stroke-width="1.4" stroke-linejoin="round">8</tspan></text>
<text><tspan x="1850.33" y="1500.5" font-size="87.4" textLength="44.12" lengthAdjust="spacingAndGlyphs" stroke="#000" stroke-width="1.4" stroke-linejoin="round">2</tspan><tspan x="1896.97" y="1499.83" font-size="91.06" textLength="21.67" lengthAdjust="spacingAndGlyphs">.</tspan><tspan x="1919.14" y="1499.64" font-size="85.78" textLength="43.53" lengthAdjust="spacingAndGlyphs" stroke="#000" stroke-width="1.4" stroke-linejoin="round">0</tspan></text>
<text><tspan x="2181.4" y="1500.5" font-size="87.4" textLength="43.38" lengthAdjust="spacingAndGlyphs" stroke="#000" stroke-width="1.4" stroke-linejoin="round">2</tspan><tspan x="2227.31" y="1499.83" font-size="91.06" textLength="21.88" lengthAdjust="spacingAndGlyphs">.</tspan><tspan x="2248.84" y="1500.5" font-size="87.4" textLength="44" lengthAdjust="spacingAndGlyphs" stroke="#000" stroke-width="1.4" stroke-linejoin="round">2</tspan></text>
</g>
<text id="xlabel"><tspan x="1144.48" y="1653.5" font-size="122.73" textLength="63.55" lengthAdjust="spacingAndGlyphs" stroke="#000" stroke-width="2" stroke-linejoin="round">1</tspan><tspan x="1214.1" y="1653.38" font-size="122.37" textLength="60" lengthAdjust="spacingAndGlyphs" stroke="#000" stroke-width="2" stroke-linejoin="round">0</tspan><tspan x="1281.7" y="1653.38" font-size="122.37" textLength="60" lengthAdjust="spacingAndGlyphs" stroke="#000" stroke-width="2" stroke-linejoin="round">0</tspan><tspan x="1348.5" y="1653.38" font-size="122.37" textLength="60" lengthAdjust="spacingAndGlyphs" stroke="#000" stroke-width="2" stroke-linejoin="round">0</tspan><tspan x="1418.05" y="1672.03" font-size="162.09" textLength="55.48" lengthAdjust="spacingAndGlyphs" stroke="#000" stroke-width="1.5" stroke-linejoin="round">/</tspan><tspan x="1478.12" y="1653.5" font-size="120.61" textLength="64.01" lengthAdjust="spacingAndGlyphs" class="it" stroke="#000" stroke-width="2" stroke-linejoin="round">T</tspan> <tspan x="1576.81" y="1649.54" font-size="126.85" textLength="52.5" lengthAdjust="spacingAndGlyphs" stroke="#fff" stroke-width="2.6" stroke-linejoin="round">(</tspan><tspan x="1631.33" y="1653.5" font-size="120.61" textLength="71.18" lengthAdjust="spacingAndGlyphs" class="it" stroke="#000" stroke-width="2" stroke-linejoin="round">K</tspan><tspan x="1709.43" y="1649.54" font-size="126.85" textLength="51.99" lengthAdjust="spacingAndGlyphs" stroke="#fff" stroke-width="2.6" stroke-linejoin="round">)</tspan></text>
<text id="ylabel" transform="rotate(-90)"><tspan x="-922.85" y="117.91" font-size="118.51" textLength="65.89" lengthAdjust="spacingAndGlyphs" stroke="#000" stroke-width="3" stroke-linejoin="round">G</tspan><tspan x="-850.32" y="120.3" font-size="125.64" textLength="51.2" lengthAdjust="spacingAndGlyphs" stroke="#fff" stroke-width="2.6" stroke-linejoin="round">(</tspan><tspan x="-800.08" y="119.4" font-size="109.09" textLength="76.27" lengthAdjust="spacingAndGlyphs" class="dit" stroke="#000" stroke-width="1" stroke-linejoin="round">Ω</tspan><tspan x="-714.79" y="92.68" font-size="130" textLength="60.76" lengthAdjust="spacingAndGlyphs">−</tspan><tspan x="-651.19" y="73.4" font-size="80.91" textLength="48.51" lengthAdjust="spacingAndGlyphs" stroke="#000" stroke-width="2.6" stroke-linejoin="round">1</tspan><tspan x="-599.91" y="120.54" font-size="126.41" textLength="51.35" lengthAdjust="spacingAndGlyphs" stroke="#fff" stroke-width="2.6" stroke-linejoin="round">)</tspan></text>
<g id="legend">
<rect x="1615.9" y="65.4" width="133" height="107.5" fill="#000000" stroke="#114f8f" stroke-width="4.6"/>
<rect x="1615.9" y="208.1" width="133" height="106" fill="#ff0000" stroke="#114f8f" stroke-width="4.6"/>
<text><tspan x="1762.7" y="154.04" font-size="85.8" textLength="42.02" lengthAdjust="spacingAndGlyphs" stroke="#000" stroke-width="1.4" stroke-linejoin="round">S</tspan><tspan x="1810.34" y="154" font-size="85.53" textLength="43.57" lengthAdjust="spacingAndGlyphs" stroke="#000" stroke-width="1.4" stroke-linejoin="round">n</tspan><tspan x="1859.73" y="154.04" font-size="85.8" textLength="51.79" lengthAdjust="spacingAndGlyphs" stroke="#000" stroke-width="1.4" stroke-linejoin="round">O</tspan><tspan x="1914.92" y="174.8" font-size="59.62" textLength="30.88" lengthAdjust="spacingAndGlyphs" stroke="#000" stroke-width="1" stroke-linejoin="round">2</tspan> <tspan x="1958.48" y="157.34" font-size="81.63" textLength="44.67" lengthAdjust="spacingAndGlyphs" class="sans">+</tspan> <tspan x="2024.65" y="155.4" font-size="81.02" textLength="41.92" lengthAdjust="spacingAndGlyphs" class="sans">1</tspan><tspan x="2068.14" y="156.77" font-size="85.02" textLength="62.54" lengthAdjust="spacingAndGlyphs" class="sans">%</tspan> <tspan x="2152.82" y="155.4" font-size="81.02" textLength="47.12" lengthAdjust="spacingAndGlyphs" class="sans">A</tspan><tspan x="2203.62" y="155.25" font-size="74.98" textLength="43.45" lengthAdjust="spacingAndGlyphs" class="sans">u</tspan></text>
<text><tspan x="1765.52" y="290.34" font-size="86.25" textLength="42.67" lengthAdjust="spacingAndGlyphs" stroke="#000" stroke-width="1.4" stroke-linejoin="round">S</tspan><tspan x="1813.27" y="290.4" font-size="86.38" textLength="42.92" lengthAdjust="spacingAndGlyphs" stroke="#000" stroke-width="1.4" stroke-linejoin="round">n</tspan><tspan x="1862.49" y="290.34" font-size="86.25" textLength="52.47" lengthAdjust="spacingAndGlyphs" stroke="#000" stroke-width="1.4" stroke-linejoin="round">O</tspan><tspan x="1917.89" y="310.8" font-size="58.87" textLength="30.13" lengthAdjust="spacingAndGlyphs" stroke="#000" stroke-width="1" stroke-linejoin="round">2</tspan></text>
</g>

</svg>
</body>
</html>
